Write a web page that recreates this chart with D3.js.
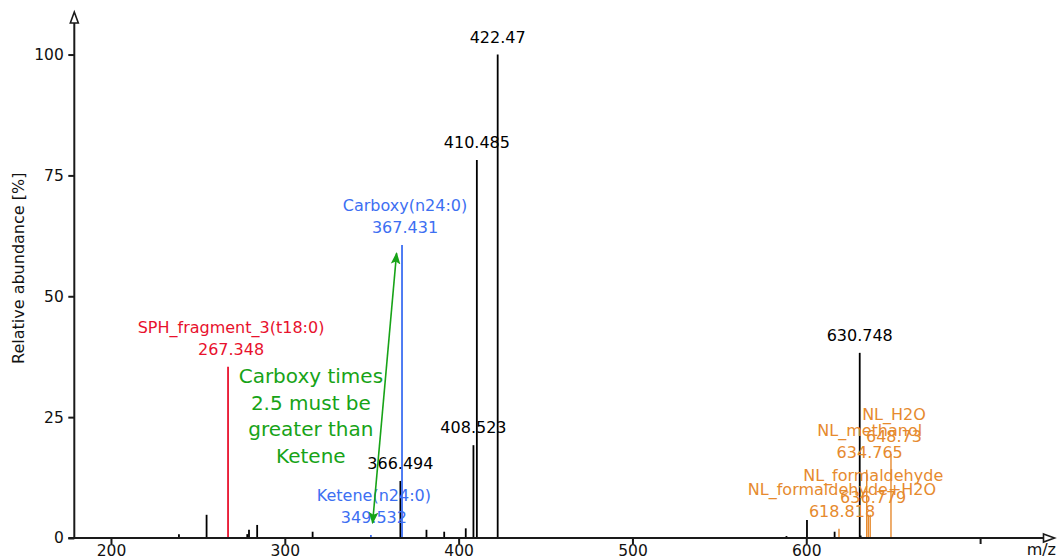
<!DOCTYPE html>
<html>
<head>
<meta charset="utf-8">
<script src="https://cdn.jsdelivr.net/npm/d3@7"></script>
<style>
  html, body { margin: 0; padding: 0; background: #fff; }
  svg { display: block; font-family: "DejaVu Sans", Verdana, sans-serif; }
</style>
</head>
<body>
<svg id="chart" width="1059" height="560"></svg>
<script>
// Unassigned spectrum peaks (m/z, relative abundance %)
const peakMz        = [239.1, 255.0, 278.4, 279.4, 284.1, 316.0, 366.494, 381.5, 391.7, 404.1, 408.523, 410.485, 422.47, 588.6, 600.4, 616.3, 630.748, 631.3];
const peakIntensity = [0.8,   4.8,   0.8,   1.7,   2.7,   1.3,   11.8,    1.7,   1.3,   2.0,   19.2,    78.2,    100,    0.4,   3.7,   1.3,   38.3,    0.5];
// Peaks whose m/z is printed above them
const labelledMz = [366.494, 408.523, 410.485, 422.47, 630.748];

// Annotated fragments
const fragName      = ["SPH_fragment_3(t18:0)", "Carboxy(n24:0)", "Ketene(n24:0)", "NL_formaldehyde+H2O", "NL_methanol", "NL_formaldehyde", "NL_H2O"];
const fragMz        = [267.348, 367.431, 349.532, 618.818, 634.765, 636.779, 648.73];
const fragIntensity = [35.4,    60.6,    0.6,     1.9,     14.1,    4.8,     17.4];
const fragType      = ["sph", "fa", "fa", "nl", "nl", "nl", "nl"];
// Isotope peak drawn in the neutral-loss colour without a label
const isoMz        = [635.7];
const isoIntensity = [4.8];

// Axes
const xDomain = [178.9, 742.8];
const yDomain = [0, 108.8];
const xTicks = [200, 300, 400, 500, 600, 700];
const yTicks = [0, 25, 50, 75, 100];

// Rule annotation: Carboxy intensity * 2.5 must exceed Ketene
const ruleText = ["Carboxy times", "2.5 must be", "greater than", "Ketene"];
const ruleArrowFrom = [350.5, 3.1];
const ruleArrowTo   = [364.3, 58.9];
const ruleTextAt    = [315.0, 0];

const typeColor = { sph: "#e8112d", fa: "#3d6ff2", nl: "#e68a2e" };
const ruleColor = "#17a317";
const axisColor = "#1a1a1a";

const svg = d3.select("#chart");
const x = d3.scaleLinear().domain(xDomain).range([74.3, 1054.5]);
const y = d3.scaleLinear().domain(yDomain).range([538, 12]);

// Peaks
const plain = peakMz.map((m, i) => ({ mz: m, v: peakIntensity[i] }));
svg.append("g").selectAll("line").data(plain).join("line")
  .attr("x1", d => x(d.mz)).attr("x2", d => x(d.mz))
  .attr("y1", y(0)).attr("y2", d => y(d.v))
  .attr("stroke", "#000").attr("stroke-width", 1.8);

const iso = isoMz.map((m, i) => ({ mz: m, v: isoIntensity[i] }));
svg.append("g").selectAll("line").data(iso).join("line")
  .attr("x1", d => x(d.mz)).attr("x2", d => x(d.mz))
  .attr("y1", y(0)).attr("y2", d => y(d.v))
  .attr("stroke", typeColor.nl).attr("stroke-width", 1.4);

const frags = fragMz.map((m, i) => ({ mz: m, v: fragIntensity[i], name: fragName[i], type: fragType[i] }));
svg.append("g").selectAll("line").data(frags).join("line")
  .attr("x1", d => x(d.mz)).attr("x2", d => x(d.mz))
  .attr("y1", y(0)).attr("y2", d => y(d.v))
  .attr("stroke", d => typeColor[d.type])
  .attr("stroke-width", d => d.type === "nl" ? 1.4 : 1.8);

// Peak labels
const plainLabels = plain.filter(d => labelledMz.includes(d.mz));
svg.append("g").selectAll("text").data(plainLabels).join("text")
  .attr("x", d => x(d.mz)).attr("y", d => y(d.v) - 12)
  .attr("text-anchor", "middle").attr("font-size", 16).attr("fill", "#000")
  .text(d => String(d.mz));

const fragLabel = svg.append("g").selectAll("g").data(frags).join("g")
  .attr("fill", d => typeColor[d.type]).attr("font-size", 16).attr("text-anchor", "middle");
fragLabel.append("text")
  .attr("x", d => x(d.mz) + 3).attr("y", d => y(d.v) - 34)
  .text(d => d.name);
fragLabel.append("text")
  .attr("x", d => x(d.mz) + 3).attr("y", d => y(d.v) - 12)
  .text(d => String(d.mz));

// Rule arrow and text
const defs = svg.append("defs");
defs.append("marker").attr("id", "ruleHead")
  .attr("viewBox", "0 0 10 10").attr("refX", 9).attr("refY", 5)
  .attr("markerWidth", 12).attr("markerHeight", 12)
  .attr("markerUnits", "userSpaceOnUse")
  .attr("orient", "auto-start-reverse")
  .append("path").attr("d", "M0,1 L10,5 L0,9 L2,5 Z").attr("fill", ruleColor);

svg.append("line")
  .attr("x1", x(ruleArrowFrom[0])).attr("y1", y(ruleArrowFrom[1]))
  .attr("x2", x(ruleArrowTo[0])).attr("y2", y(ruleArrowTo[1]))
  .attr("stroke", ruleColor).attr("stroke-width", 1.6)
  .attr("marker-start", "url(#ruleHead)").attr("marker-end", "url(#ruleHead)");

svg.append("g").selectAll("text").data(ruleText).join("text")
  .attr("x", x(ruleTextAt[0]))
  .attr("y", (d, i) => 383 + i * 26.5)
  .attr("text-anchor", "middle").attr("font-size", 20).attr("fill", ruleColor)
  .text(d => d);

// X axis (last tick unlabelled to leave room for the axis title)
const xAxis = d3.axisBottom(x).tickValues(xTicks).tickSize(6).tickSizeOuter(0)
  .tickFormat((d, i) => i === xTicks.length - 1 ? "" : d);
const gx = svg.append("g").attr("transform", `translate(0,${y(0)})`).call(xAxis);
gx.select(".domain").remove();
gx.selectAll(".tick line").attr("stroke", axisColor).attr("stroke-width", 2);
gx.selectAll(".tick text").attr("font-size", 15.5).attr("font-family", "DejaVu Sans").attr("fill", "#111").attr("dy", "0.6em");

// Y axis
const yAxis = d3.axisLeft(y).tickValues(yTicks).tickSize(6).tickSizeOuter(0);
const gy = svg.append("g").attr("transform", `translate(${x(xDomain[0])},0)`).call(yAxis);
gy.select(".domain").remove();
gy.selectAll(".tick line").attr("stroke", axisColor).attr("stroke-width", 2);
gy.selectAll(".tick text").attr("font-size", 15.5).attr("font-family", "DejaVu Sans").attr("fill", "#111").attr("dx", "-0.1em");

// Axis lines with open arrowheads
const x0 = x(xDomain[0]), xEnd = x(xDomain[1]);
const y0 = y(0), yEnd = y(yDomain[1]);
svg.append("path")
  .attr("d", `M${x0 - 6},${y0} L${xEnd - 11},${y0}`)
  .attr("stroke", axisColor).attr("stroke-width", 2).attr("fill", "none");
svg.append("path")
  .attr("d", `M${x0},${y0} L${x0},${yEnd + 10}`)
  .attr("stroke", axisColor).attr("stroke-width", 2).attr("fill", "none");
svg.append("path")
  .attr("d", `M${xEnd - 11},${y0 - 4} L${xEnd},${y0} L${xEnd - 11},${y0 + 4} Z`)
  .attr("stroke", axisColor).attr("stroke-width", 1.6).attr("fill", "#fff");
svg.append("path")
  .attr("d", `M${x0 - 4},${yEnd + 11} L${x0},${yEnd} L${x0 + 4},${yEnd + 11} Z`)
  .attr("stroke", axisColor).attr("stroke-width", 1.6).attr("fill", "#fff");

// Axis titles
svg.append("text")
  .attr("transform", `translate(24,${(y(0) + y(100)) / 2 - 28}) rotate(-90)`)
  .attr("text-anchor", "middle").attr("font-size", 16).attr("fill", "#111")
  .text("Relative abundance [%]");
svg.append("text")
  .attr("x", 1056).attr("y", 555)
  .attr("text-anchor", "end").attr("font-size", 16).attr("fill", "#111")
  .text("m/z");
</script>
</body>
</html>
